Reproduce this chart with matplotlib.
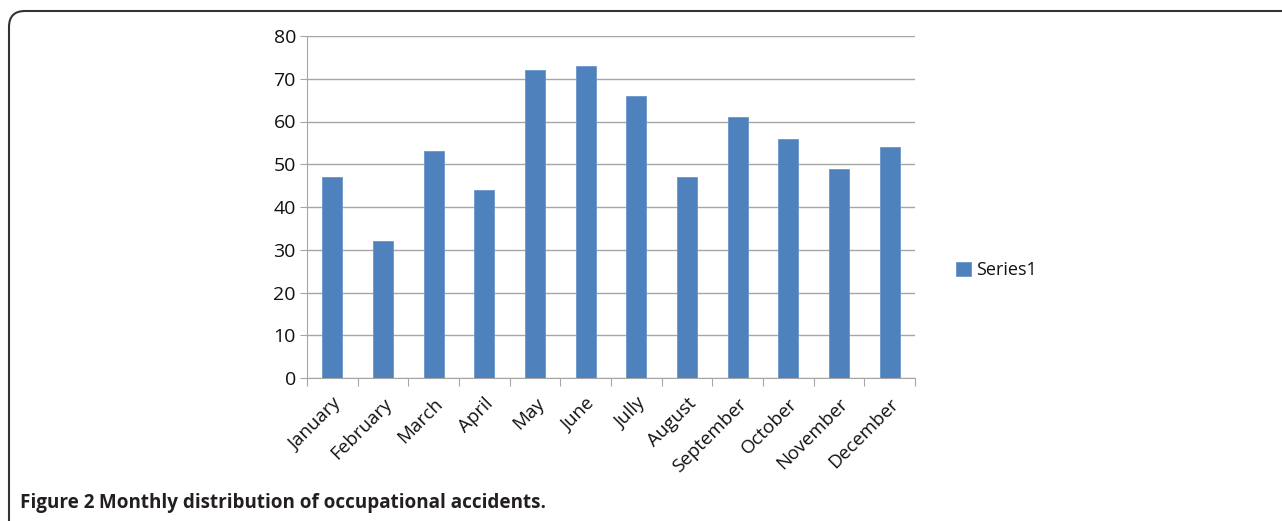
import matplotlib.pyplot as plt
import numpy as np
from matplotlib.path import Path
from matplotlib.patches import PathPatch

months = ['January', 'February', 'March', 'April', 'May', 'June', 'Jully',
          'August', 'September', 'October', 'November', 'December']
accidents = [47, 32, 53, 44, 72, 73, 66, 47, 61, 56, 49, 54]
series_name = 'Series1'
yticks = [0, 10, 20, 30, 40, 50, 60, 70, 80]
caption_bold = 'Figure 2'
caption_rest = ' Monthly distribution of occupational accidents.'

plt.rcParams['font.family'] = ['Open Sans', 'DejaVu Sans']

W, H = 1282, 521
fig = plt.figure(figsize=(W / 100, H / 100), dpi=100)
ax = fig.add_axes([307 / W, 1 - 378 / H, (915 - 307) / W, (378 - 36) / H])

x = np.arange(len(months))
bar_color = '#4F81BD'
ax.bar(x, accidents, width=0.4, color=bar_color, edgecolor='#6A96CC',
       linewidth=0.6, label=series_name, zorder=3)

ax.set_xlim(-0.5, len(months) - 0.5)
ax.set_ylim(0, 80)
ax.set_yticks(yticks)
ax.set_yticklabels([str(v) for v in yticks], fontsize=14, color='#111111')
ax.yaxis.grid(True, color='#A6A6A6', linewidth=1.0, zorder=0)

# category boundaries as tick marks, labels at centers
ax.set_xticks(np.arange(-0.5, len(months), 1.0))
ax.set_xticklabels([])
ax.set_xticks(x, minor=True)
ax.set_xticklabels(months, minor=True, rotation=45, ha='right',
                   rotation_mode='anchor', fontsize=13.5, color='#111111')
ax.tick_params(axis='x', which='major', length=6, color='#A6A6A6', direction='out')
ax.tick_params(axis='x', which='minor', length=0, pad=12)
ax.tick_params(axis='y', length=5, color='#A6A6A6', pad=3)

for side in ['top', 'right']:
    ax.spines[side].set_visible(False)
ax.spines['left'].set_color('#A6A6A6')
ax.spines['bottom'].set_color('#A6A6A6')

leg = fig.legend(loc='center left', bbox_to_anchor=(940 / W, 1 - 270 / H),
                 frameon=False, fontsize=13, handlelength=0.8, handleheight=0.8,
                 handletextpad=0.3)
for txt in leg.get_texts():
    txt.set_color('#111111')

# figure frame: top and left lines with a rounded corner
r = 16
x0, y0 = 9, 11
verts = [(W, y0), (x0 + r, y0), (x0, y0), (x0, y0 + r), (x0, H)]
codes = [Path.MOVETO, Path.LINETO, Path.CURVE3, Path.CURVE3, Path.LINETO]
verts = [(vx / W, 1 - vy / H) for vx, vy in verts]
frame = PathPatch(Path(verts, codes), transform=fig.transFigure,
                  facecolor='none', edgecolor='#333333', linewidth=1.5)
fig.patches.append(frame)

t = fig.text(20 / W, 1 - 503 / H, caption_bold, fontsize=13.6, fontweight='bold',
             va='center', color='#231F20')
fig.canvas.draw()
bb = t.get_window_extent()
fig.text(bb.x1 / W, 1 - 503 / H, caption_rest, fontsize=13.6, fontweight='bold',
         va='center', color='#231F20')

fig.savefig('out.png', dpi=100)
